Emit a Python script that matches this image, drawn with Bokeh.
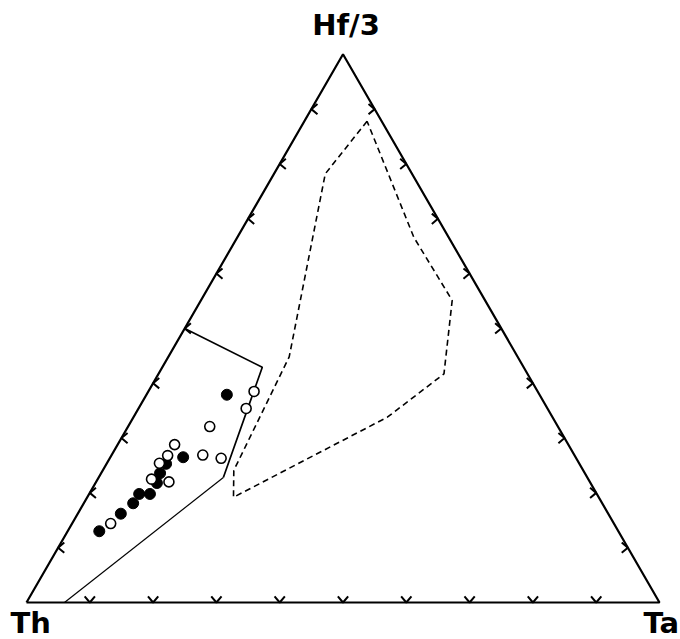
import numpy as np
from bokeh.plotting import figure
from bokeh.models import Range1d, ColumnDataSource
from bokeh.core.properties import value
from bokeh.embed import file_html
from bokeh.resources import INLINE

# ---- data (percent of Hf/3, Th, Ta) ----
filled_hf = [37.9, 26.5, 25.3, 23.6, 21.8, 19.8, 19.8, 18.1, 16.2, 13.0]
filled_th = [49.4, 62.0, 65.3, 67.1, 68.5, 70.6, 72.3, 74.1, 77.0, 82.0]
filled_ta = [12.7, 11.5, 9.4, 9.3, 9.7, 9.6, 7.9, 7.8, 6.8, 5.0]

open_hf = [38.5, 35.4, 32.1, 28.8, 26.8, 25.4, 26.9, 26.3, 22.5, 22.0, 14.4]
open_th = [44.8, 47.6, 55.0, 62.2, 64.3, 66.3, 58.7, 56.1, 69.0, 66.5, 79.5]
open_ta = [16.7, 17.0, 12.9, 9.0, 8.9, 8.3, 14.4, 17.6, 8.5, 11.5, 6.1]

solid_hf = [50.0, 42.9, 22.8, 0.0]
solid_th = [50.0, 41.3, 57.5, 94.0]
solid_ta = [0.0, 15.8, 19.7, 6.0]

dashed_hf = [87.8, 78.2, 44.8, 24.1, 19.2, 33.8, 41.7, 55.1, 66.6, 87.8]
dashed_th = [2.3, 13.7, 36.1, 55.2, 57.7, 26.1, 13.2, 5.2, 5.5, 2.3]
dashed_ta = [9.9, 8.1, 19.1, 20.7, 23.1, 40.1, 45.1, 39.7, 27.9, 9.9]

tick_fracs = [10, 20, 30, 40, 50, 60, 70, 80, 90]
vertex_labels = ["Hf/3", "Th", "Ta"]

S3 = np.sqrt(3) / 2


def tern(hf, th, ta):
    hf = np.asarray(hf, float); th = np.asarray(th, float); ta = np.asarray(ta, float)
    s = hf + th + ta
    hf, ta = hf / s, ta / s
    return ta + hf / 2, hf * S3


p = figure(width=680, height=639, output_backend="svg", toolbar_location=None,
           x_range=Range1d(-26 / 633, 654 / 633), y_range=Range1d(-37 / 633, 602 / 633),
           min_border=0, outline_line_color=None)
p.axis.visible = False
p.grid.visible = False
p.background_fill_color = "white"

# triangle frame
tx, ty = tern([0, 0, 100, 0], [100, 0, 0, 100], [0, 100, 0, 0])
p.line(tx, ty, line_color="black", line_width=2.2)

# chevron ticks
L = 8 / 633.0
th_ang = np.deg2rad(40)
t = np.asarray(tick_fracs, float)
xs, ys = [], []
edges = [
    (tern(t, 100 - t, 0 * t), np.array([1.0, 0.0])),      # left edge, arms to the right
    (tern(t, 0 * t, 100 - t), np.array([-1.0, 0.0])),     # right edge, arms to the left
    (tern(0 * t, 100 - t, t), np.array([0.0, 1.0])),      # bottom edge, arms upward
]
for (ex, ey), back in edges:
    for x0, y0 in zip(ex, ey):
        pts_x, pts_y = [], []
        for sgn in (1, -1):
            c, s = np.cos(sgn * th_ang), np.sin(sgn * th_ang)
            d = np.array([back[0] * c - back[1] * s, back[0] * s + back[1] * c])
            pts_x.append(x0 + L * d[0]); pts_y.append(y0 + L * d[1])
        xs.append([pts_x[0], x0, pts_x[1]])
        ys.append([pts_y[0], y0, pts_y[1]])
p.multi_line(xs, ys, line_color="black", line_width=2)

# fields
sx, sy = tern(solid_hf, solid_th, solid_ta)
p.line(sx[:3], sy[:3], line_color="black", line_width=1.7)
p.line(sx[2:], sy[2:], line_color="black", line_width=1.2)
dx, dy = tern(dashed_hf, dashed_th, dashed_ta)
p.line(dx, dy, line_color="black", line_width=1.6, line_dash="6 4")

# data points
fx, fy = tern(filled_hf, filled_th, filled_ta)
p.scatter(fx, fy, size=11, fill_color="black", line_color="black")
ox, oy = tern(open_hf, open_th, open_ta)
p.scatter(ox, oy, size=10, fill_color="white", line_color="black", line_width=1.6)

# vertex labels
vx, vy = tern([100, 0, 0], [0, 100, 0], [0, 0, 100])
src = ColumnDataSource(dict(x=vx, y=vy, t=vertex_labels,
                            xo=[3, -16, -16], yo=[-29, 20, 20],
                            al=["center", "left", "left"]))
p.text(x="x", y="y", text="t", x_offset="xo", y_offset="yo", text_align="al",
       text_baseline="alphabetic", text_font=value("DejaVu Sans"),
       text_font_style="bold", text_font_size="29px", text_color="black", source=src)

open("out.html", "w").write(file_html(p, INLINE))
